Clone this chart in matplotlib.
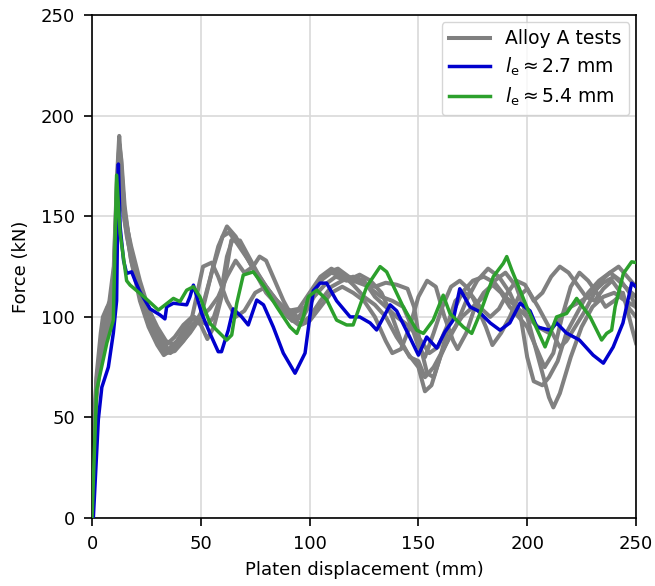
import matplotlib
matplotlib.use("Agg")
import matplotlib.pyplot as plt

# ---------------- data ----------------
# Alloy A tests (grey curves)
g1_x = [0, 1, 2, 4, 6, 8, 10, 11.5, 12.5, 13.5, 15, 18, 22, 26, 30, 33, 37, 42, 46, 49, 51, 55, 58, 62, 66, 70, 75, 80, 85, 90, 95, 100, 105, 110, 115, 120, 125, 130, 135, 140, 145, 148, 151, 154, 157, 160, 165, 170, 175, 180, 185, 190, 195, 200, 205, 210, 215, 220, 225, 230, 235, 240, 245, 250]
g1_y = [0, 45, 68, 85, 100, 108, 125, 170, 190, 175, 150, 128, 108, 95, 86, 81, 84, 92, 100, 115, 125, 127, 120, 108, 100, 103, 112, 115, 108, 102, 100, 108, 118, 122, 120, 118, 116, 115, 117, 116, 114, 105, 85, 72, 70, 80, 100, 112, 118, 120, 117, 110, 105, 100, 95, 92, 100, 105, 108, 112, 117, 120, 115, 110]

g2_x = [0, 1, 2, 4, 6, 8, 10, 11.5, 12.5, 13.5, 15, 18, 22, 26, 30, 34, 38, 42, 46, 50, 54, 58, 62, 66, 70, 75, 80, 85, 90, 95, 100, 105, 110, 115, 120, 125, 130, 135, 140, 145, 150, 153, 156, 160, 165, 170, 175, 180, 185, 190, 195, 200, 205, 210, 212, 215, 220, 225, 230, 235, 240, 245, 250]
g2_y = [0, 40, 62, 80, 90, 100, 118, 160, 186, 178, 155, 130, 112, 97, 88, 82, 83, 88, 94, 102, 118, 135, 145, 140, 132, 122, 112, 106, 103, 104, 112, 120, 124, 121, 116, 110, 106, 100, 90, 82, 75, 63, 66, 80, 92, 100, 105, 110, 118, 122, 115, 100, 80, 60, 55, 62, 80, 95, 105, 110, 112, 108, 105]

g3_x = [0, 1, 2, 4, 6, 8, 10, 11.5, 12.5, 13.5, 15, 18, 22, 26, 30, 33, 36, 40, 45, 50, 55, 60, 63, 67, 72, 77, 82, 87, 92, 97, 102, 107, 112, 117, 123, 128, 133, 138, 142, 146, 150, 153, 157, 162, 167, 172, 177, 182, 187, 192, 197, 200, 203, 207, 210, 214, 218, 223, 228, 233, 238, 243, 247, 250]
g3_y = [0, 42, 66, 88, 98, 104, 122, 168, 184, 172, 152, 133, 116, 100, 90, 84, 82, 86, 92, 100, 122, 140, 142, 136, 128, 120, 112, 104, 98, 100, 110, 116, 120, 118, 121, 118, 112, 100, 88, 80, 78, 70, 75, 85, 95, 108, 118, 124, 120, 112, 100, 80, 68, 66, 70, 78, 92, 102, 112, 118, 122, 118, 112, 105]

g4_x = [0, 1, 2, 4, 6, 8, 10, 11.5, 12.5, 13.5, 15, 18, 22, 26, 30, 34, 38, 42, 46, 50, 54, 58, 62, 66, 70, 74, 77, 80, 84, 88, 92, 96, 100, 105, 110, 115, 120, 125, 130, 135, 138, 142, 146, 150, 154, 158, 162, 166, 168, 172, 176, 180, 184, 188, 192, 196, 200, 204, 208, 212, 216, 220, 224, 228, 232, 236, 240, 244, 248, 250]
g4_y = [0, 38, 60, 78, 88, 96, 112, 150, 172, 168, 150, 135, 118, 104, 95, 88, 86, 90, 96, 100, 104, 110, 120, 128, 122, 125, 130, 128, 118, 108, 100, 96, 98, 105, 112, 115, 112, 108, 100, 88, 82, 84, 95, 110, 118, 115, 100, 88, 84, 92, 105, 112, 116, 112, 105, 100, 95, 85, 75, 82, 100, 115, 122, 118, 112, 105, 108, 112, 95, 87]

g5_x = [0, 1, 2, 4, 5, 7, 9, 10.5, 11.5, 12.5, 14, 16, 19, 23, 27, 31, 35, 39, 43, 47, 50, 53, 56, 59, 62, 65, 69, 73, 78, 83, 88, 93, 98, 103, 108, 113, 118, 123, 128, 133, 138, 143, 147, 150, 153, 157, 161, 165, 169, 173, 177, 181, 184, 188, 192, 196, 200, 205, 210, 215, 218, 222, 226, 230, 234, 238, 242, 246, 250]
g5_y = [0, 45, 70, 92, 100, 105, 108, 125, 150, 165, 155, 140, 125, 110, 98, 88, 84, 88, 95, 100, 98, 96, 100, 110, 130, 140, 134, 126, 118, 110, 105, 102, 105, 115, 122, 124, 120, 118, 114, 110, 108, 105, 95, 85, 80, 92, 105, 115, 118, 114, 105, 95, 86, 92, 100, 110, 114, 105, 95, 85, 88, 95, 102, 110, 118, 122, 125, 120, 115]

g6_x = [0, 1, 2, 4, 6, 8, 10, 11.5, 12.5, 13.5, 15, 18, 22, 26, 30, 34, 38, 42, 46, 50, 53, 56, 60, 64, 68, 72, 76, 80, 85, 90, 95, 100, 105, 110, 115, 120, 125, 130, 135, 140, 145, 150, 155, 159, 163, 167, 171, 175, 179, 183, 187, 191, 195, 199, 203, 207, 211, 215, 219, 223, 227, 231, 235, 239, 243, 247, 250]
g6_y = [0, 40, 64, 82, 95, 102, 120, 160, 180, 170, 148, 128, 112, 100, 92, 86, 90, 96, 100, 96, 89, 95, 112, 138, 138, 130, 122, 115, 108, 100, 96, 100, 108, 115, 118, 120, 118, 110, 105, 100, 96, 90, 82, 85, 95, 108, 112, 110, 104, 100, 104, 112, 118, 116, 108, 112, 120, 125, 122, 116, 110, 108, 114, 118, 112, 104, 100]

gray_x = [g1_x, g2_x, g3_x, g4_x, g5_x, g6_x]
gray_y = [g1_y, g2_y, g3_y, g4_y, g5_y, g6_y]

# l_e ~ 2.7 mm (blue)
blue_x = [0, 0.6, 2.9, 4.5, 7.5, 9.8, 11.3, 12.1, 12.9, 14.5, 15.9, 18.2, 19.8, 22, 26.7, 31.2, 33.5, 34.3, 37.4, 43.5, 45, 46.6, 50.4, 54.2, 58, 59.5, 62.6, 64.9, 68.8, 71.8, 75.7, 78.8, 83.3, 87.9, 93.3, 97.9, 101.7, 104.8, 107.8, 112.4, 118.6, 123, 127.8, 130.8, 137, 140, 146, 150, 153.8, 158.4, 162.2, 166, 169, 173.7, 177.4, 183, 187.5, 192, 196.7, 201.3, 204.4, 210.5, 213.5, 218, 224, 230.3, 235, 239.5, 244, 248, 250]
blue_y = [0, 0, 49, 65, 75, 92, 108, 176, 145, 128, 121.6, 122.4, 118, 112.5, 104, 101, 99, 105, 106.8, 106, 110, 115.8, 101.7, 91.8, 82.7, 82.7, 93.4, 104, 100, 96, 108.4, 106, 95, 82, 72, 82, 113, 116.8, 116.8, 108, 100, 100, 97, 93.5, 106, 103, 90, 81, 90, 84.5, 92.6, 98.4, 114, 105, 103, 97, 93.4, 97, 106.8, 103, 95, 93.4, 97, 92, 88.5, 81, 77, 85, 97, 116.8, 115]

# l_e ~ 5.4 mm (green)
green_x = [0, 2.1, 6.8, 9.8, 11.3, 12.9, 15.9, 17.5, 22, 25.9, 30.5, 33.5, 37.4, 40.4, 43.5, 46.6, 49.6, 54.2, 57.3, 61.9, 64.2, 66.5, 69.5, 74.1, 78.7, 84.9, 91, 94.1, 97.1, 99.4, 103.3, 107.9, 112.4, 117, 120, 122.4, 126.2, 132.4, 135.4, 143, 149.2, 152.3, 156.8, 161.4, 164.5, 170.6, 174.5, 178.3, 184.4, 189, 190.6, 192.9, 199.8, 208.2, 213.5, 218.1, 222.7, 228.9, 234.2, 236.5, 238.8, 240.4, 244.2, 248, 250]
green_y = [0, 63.6, 87, 98.4, 170.5, 141.6, 118, 115.8, 111.7, 108, 103.4, 105.9, 109.2, 107.6, 113.3, 115, 110, 96.8, 93.4, 88.5, 91, 106.7, 120.8, 122.4, 115.8, 105, 95, 91.8, 100, 110, 113.3, 108.4, 98.4, 96, 96, 103.4, 115, 125, 122.4, 105, 93.4, 91.8, 98.4, 110.8, 101.7, 95, 91.8, 101.7, 120, 126.6, 130, 123.3, 105, 85.1, 100, 101.7, 109.2, 100, 88.5, 91.8, 93.4, 105, 121.6, 127.4, 127]

# ---------------- plot ----------------
plt.rcParams["font.family"] = "DejaVu Sans"
fig = plt.figure(figsize=(6.55, 5.86), dpi=100)
ax = fig.add_axes([0.1405, 0.116, 0.8305, 0.858])

for i, (xs, ys) in enumerate(zip(gray_x, gray_y)):
    ax.plot(xs, ys, color="gray", lw=2.9, solid_joinstyle="round",
            label="Alloy A tests" if i == 0 else None, zorder=2)
ax.plot(blue_x, blue_y, color="mediumblue", lw=2.5, solid_joinstyle="round",
        label=r"$l_\mathrm{e}\approx 2.7$ mm", zorder=3)
ax.plot(green_x, green_y, color="tab:green", lw=2.5, solid_joinstyle="round",
        label=r"$l_\mathrm{e}\approx 5.4$ mm", zorder=4)

ax.set_xlim(0, 250)
ax.set_ylim(0, 250)
ax.set_xticks([0, 50, 100, 150, 200, 250])
ax.set_yticks([0, 50, 100, 150, 200, 250])
ax.tick_params(labelsize=13, length=5.8, width=1.2, pad=6.5)
for sp in ax.spines.values():
    sp.set_linewidth(1.2)
ax.grid(True, color="#d9d9d9", lw=1.2)
ax.set_axisbelow(True)
ax.set_xlabel("Platen displacement (mm)", fontsize=13, labelpad=6)
ax.set_ylabel("Force (kN)", fontsize=13, labelpad=8)
ax.legend(loc="upper right", fontsize=13.5, handlelength=2.2,
          labelspacing=0.4, borderaxespad=0.35)

fig.savefig("out.png", dpi=100)
